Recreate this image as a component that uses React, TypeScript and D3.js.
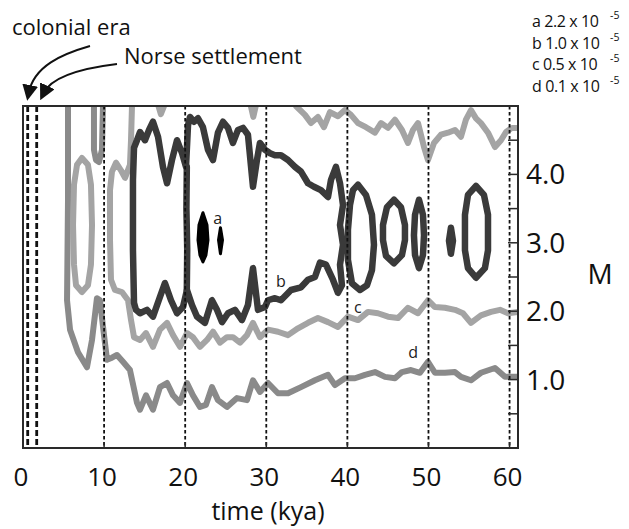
import React from 'react';
import * as d3 from 'd3';

type Pt = [number, number]; // [time kya, M]

const xTicks = [0, 10, 20, 30, 40, 50, 60];
const yLabels = [1, 2, 3, 4];
const yMinor = [0.5, 1, 1.5, 2, 2.5, 3, 3.5, 4, 4.5];
const eventTimes = [0.58, 1.69];
const eventNames = ['colonial era', 'Norse settlement'];
const levelNames = ['a', 'b', 'c', 'd'];
const levelValues = ['2.2', '1.0', '0.5', '0.1'];
const levelLabelAt: Pt[] = [[24.0, 3.36], [31.8, 2.44], [41.3, 2.05], [48.1, 1.4]];

// level d (0.1)
const dLower: Pt[] = [
  [5.55, 5.0], [5.55, 3.63], [5.43, 2.16], [5.8, 1.73], [6.78, 1.4], [7.89, 1.18], [8.51, 1.58],
  [9.12, 2.19], [9.49, 2.16], [9.99, 1.65], [10.36, 1.29], [10.97, 1.32], [11.59, 1.36], [12.33, 1.26],
  [13.19, 1.14], [14.06, 0.66], [14.43, 0.56], [15.17, 0.77], [16.03, 0.56], [16.89, 0.89], [17.76, 0.95],
  [18.5, 0.77], [19.36, 0.66], [20.22, 0.95], [20.96, 0.77], [21.82, 0.6], [22.56, 0.63], [23.3, 0.89],
  [24.04, 0.7], [25.15, 0.6], [26.39, 0.73], [27.62, 0.7], [28.36, 0.99], [29.22, 0.82], [30.21, 0.95],
  [31.44, 0.8], [32.68, 0.8], [34.28, 0.89], [36.0, 0.99], [37.61, 1.07], [38.47, 0.92], [39.7, 1.02],
  [40.94, 1.02], [42.17, 1.07], [43.4, 1.11], [44.64, 1.04], [45.87, 1.02], [46.73, 1.11], [47.84, 1.14],
  [48.95, 1.1], [49.94, 1.26], [50.8, 1.1], [52.03, 1.1], [53.27, 1.11], [54.01, 1.04], [55.24, 0.99],
  [56.47, 1.1], [58.2, 1.17], [59.43, 1.04], [61.04, 1.04],
];
const dTopU: Pt[] = [[8.75, 5.0], [8.75, 4.36], [9.0, 4.21], [9.37, 4.18], [9.74, 4.36], [9.86, 5.0]];

// level c (0.5)
const cOval: Pt[] = [
  [7.27, 4.24], [8.01, 4.14], [8.38, 3.85], [8.51, 3.26], [8.38, 2.68], [8.01, 2.38], [7.27, 2.28],
  [6.54, 2.38], [6.29, 2.68], [6.17, 3.26], [6.29, 3.85], [6.66, 4.14],
];
const cLower: Pt[] = [
  [13.44, 5.0], [13.32, 4.5], [13.19, 4.14], [12.58, 3.95], [12.08, 4.06], [11.47, 4.17], [10.97, 4.04],
  [10.73, 3.77], [10.73, 3.04], [10.85, 2.46], [11.34, 2.31], [12.2, 2.28], [12.95, 2.16], [13.32, 1.87],
  [13.69, 1.62], [14.43, 1.58], [15.17, 1.68], [16.03, 1.48], [16.89, 1.73], [17.76, 1.83], [18.5, 1.65],
  [19.36, 1.48], [20.22, 1.68], [20.96, 1.62], [21.82, 1.48], [22.69, 1.58], [23.43, 1.7], [24.29, 1.54],
  [25.15, 1.62], [25.89, 1.62], [26.76, 1.54], [27.62, 1.65], [28.36, 1.83], [29.22, 1.62], [30.21, 1.73],
  [31.44, 1.7], [32.68, 1.65], [33.91, 1.75], [35.14, 1.83], [36.37, 1.9], [37.61, 1.84], [38.84, 1.77],
  [40.07, 1.92], [41.31, 1.87], [42.54, 1.99], [43.77, 1.97], [45.01, 1.92], [46.24, 1.9], [47.47, 2.05],
  [48.71, 1.97], [49.94, 2.16], [50.8, 2.06], [52.03, 2.05], [53.27, 2.02], [54.25, 1.97], [55.24, 1.83],
  [56.47, 1.94], [57.71, 1.99], [58.82, 2.02], [59.8, 1.97], [61.04, 1.99],
];
const cUpper: Pt[] = [
  [33.66, 5.0], [34.77, 4.87], [35.51, 4.75], [36.37, 4.84], [37.11, 4.69], [37.85, 4.91], [38.84, 4.85],
  [39.7, 4.94], [40.44, 4.87], [41.31, 4.75], [42.29, 4.69], [43.4, 4.61], [44.14, 4.75], [45.01, 4.68],
  [45.87, 4.8], [46.73, 4.65], [47.47, 4.46], [48.09, 4.65], [48.71, 4.75], [49.45, 4.4], [49.94, 4.21],
  [50.68, 4.46], [51.54, 4.58], [52.4, 4.61], [53.27, 4.65], [54.01, 4.55], [54.62, 4.8], [55.24, 4.94],
  [55.86, 4.82], [56.47, 4.75], [57.34, 4.61], [58.2, 4.4], [58.94, 4.5], [59.56, 4.62], [60.3, 4.68],
  [61.04, 4.68],
];
const cTip1: Pt[] = [[16.7, 5.0], [17.0, 4.88], [17.4, 5.0]];
const cTip2: Pt[] = [[28.1, 5.0], [28.4, 4.84], [28.7, 5.0]];

// level b (1.0)
const bMain: Pt[] = [
  [13.69, 2.12], [13.56, 2.89], [13.56, 3.92], [13.69, 4.39], [14.06, 4.5], [14.43, 4.62], [15.04, 4.5],
  [15.54, 4.65], [16.03, 4.77], [16.65, 4.55], [17.26, 4.11], [17.76, 3.87], [18.37, 4.21], [18.99, 4.5],
  [19.61, 4.31], [20.1, 4.11], [20.35, 4.72], [20.59, 4.84], [21.08, 4.77], [21.58, 4.82], [22.19, 4.69],
  [22.81, 4.36], [23.43, 4.21], [24.04, 4.61], [24.66, 4.77], [25.28, 4.68], [25.89, 4.46], [26.51, 4.65],
  [27.13, 4.68], [27.74, 4.58], [28.36, 3.82], [28.85, 4.21], [29.22, 4.46], [29.84, 4.36], [30.46, 4.31],
  [31.07, 4.28], [31.81, 4.28], [32.68, 4.21], [33.54, 4.11], [34.28, 4.04], [35.14, 3.87], [35.88, 3.82],
  [36.74, 3.77], [37.61, 3.67], [37.98, 3.92], [38.59, 4.11], [39.09, 3.87], [39.46, 3.55], [39.09, 3.26],
  [39.46, 2.97], [39.09, 2.68], [39.33, 2.38], [38.84, 2.27], [38.22, 2.46], [37.36, 2.68], [36.62, 2.71],
  [36.0, 2.5], [35.14, 2.46], [34.28, 2.35], [33.05, 2.31], [31.81, 2.16], [31.07, 2.19], [30.21, 2.16],
  [29.84, 2.06], [28.98, 2.02], [28.36, 2.63], [27.74, 2.09], [27.0, 1.87], [26.14, 2.02], [25.28, 1.97],
  [24.54, 1.84], [23.92, 2.02], [23.3, 2.16], [22.44, 1.83], [21.46, 1.92], [20.84, 2.09], [20.22, 2.31],
  [19.73, 2.06], [18.99, 1.97], [18.25, 2.16], [17.5, 2.41], [16.89, 2.21], [16.03, 1.92], [15.29, 2.02],
  [14.43, 1.97], [13.93, 2.02],
];
const bDivider: Pt[] = [[20.2, 4.11], [20.15, 3.5], [20.25, 2.9], [20.2, 2.31]];
const bOval1: Pt[] = [
  [41.31, 3.85], [42.29, 3.7], [43.03, 3.41], [43.28, 2.97], [43.03, 2.6], [42.42, 2.38], [41.55, 2.31],
  [40.56, 2.41], [40.07, 2.75], [40.07, 3.19], [40.32, 3.55], [40.69, 3.77],
];
const bOval2: Pt[] = [
  [45.75, 3.63], [46.61, 3.52], [47.1, 3.26], [47.1, 3.04], [46.73, 2.82], [45.75, 2.7], [44.76, 2.81],
  [44.39, 3.04], [44.39, 3.26], [44.88, 3.52],
];
const bOval3: Pt[] = [
  [48.83, 3.63], [49.32, 3.41], [49.45, 3.11], [49.32, 2.82], [48.83, 2.63], [48.34, 2.82], [48.21, 3.11],
  [48.34, 3.41],
];
const bDot: Pt[] = [[52.77, 3.22], [53.02, 3.03], [52.77, 2.84], [52.53, 3.03]];
const bOval4: Pt[] = [
  [55.86, 3.83], [56.84, 3.7], [57.34, 3.41], [57.34, 2.89], [56.96, 2.63], [55.86, 2.49], [54.87, 2.63],
  [54.5, 2.89], [54.5, 3.41], [54.87, 3.7],
];

// level a (2.2)
const aBig: Pt[] = [
  [22.19, 3.44], [22.69, 3.26], [22.81, 3.04], [22.56, 2.82], [22.19, 2.72], [21.82, 2.82], [21.58, 3.04],
  [21.7, 3.26],
];
const aSmall: Pt[] = [[24.35, 3.22], [24.6, 3.04], [24.35, 2.84], [24.11, 3.04]];

const W = 629, H = 529;
const FONT = '"Open Sans", sans-serif';

export default function App() {
  const x = d3.scaleLinear().domain([0, 61.04]).range([23, 518]);
  const y = d3.scaleLinear().domain([0, 5]).range([448, 106]);
  const open = d3.line<Pt>().x(d => x(d[0])).y(d => y(d[1]));
  const closed = d3.line<Pt>().x(d => x(d[0])).y(d => y(d[1])).curve(d3.curveLinearClosed);
  const [x0, x1] = x.range();
  const [y0, y1] = y.range();

  const colD = '#8a8a8a', colC = '#a4a4a4', colB = '#3a3a3a';

  return (
    <div>
      <style>{'body{margin:0}'}</style>
      <svg width={W} height={H} style={{ display: 'block', background: '#fff' }} fontFamily={FONT}>
        <defs>
          <clipPath id="plot"><rect x={x0} y={y1} width={x1 - x0} height={y0 - y1} /></clipPath>
          <marker id="head" viewBox="0 0 10 10" refX="5" refY="5" markerWidth="8" markerHeight="8" orient="auto">
            <path d="M0,0 L10,5 L0,10 z" fill="#111" />
          </marker>
        </defs>

        <g clipPath="url(#plot)" fill="none" strokeLinejoin="round" strokeLinecap="round" strokeWidth={6}>
          <path d={open(dLower)!} stroke={colD} />
          <path d={open(dTopU)!} stroke={colD} />
          <path d={closed(cOval)!} stroke={colC} />
          <path d={open(cLower)!} stroke={colC} />
          <path d={open(cUpper)!} stroke={colC} />
          <path d={open(cTip1)!} stroke={colC} />
          <path d={open(cTip2)!} stroke={colC} />
          <g stroke={colB} strokeWidth={6.5}>
            <path d={closed(bMain)!} />
            <path d={open(bDivider)!} />
            <path d={closed(bOval1)!} />
            <path d={closed(bOval2)!} />
            <path d={closed(bOval3)!} />
            <path d={closed(bDot)!} fill={colB} />
            <path d={closed(bOval4)!} />
          </g>
          <path d={closed(aBig)!} stroke="#000" fill="#000" strokeWidth={3} />
          <path d={closed(aSmall)!} stroke="#000" fill="#000" strokeWidth={3} />
        </g>

        {/* dashed time markers */}
        {xTicks.slice(1).map(t => (
          <line key={t} x1={x(t)} x2={x(t)} y1={y1} y2={y0} stroke="#111" strokeWidth={1.8} strokeDasharray="3.5,2.5" />
        ))}
        {eventTimes.map(t => (
          <line key={t} x1={x(t)} x2={x(t)} y1={y1} y2={y0} stroke="#111" strokeWidth={2.8} strokeDasharray="6,3" />
        ))}

        {/* frame and ticks */}
        <rect x={x0} y={y1} width={x1 - x0} height={y0 - y1} fill="none" stroke="#2a2a2a" strokeWidth={2} />
        {yMinor.map(m => (
          <line key={m} x1={x1 - 10} x2={x1} y1={y(m)} y2={y(m)} stroke="#2a2a2a" strokeWidth={1.5} />
        ))}
        {xTicks.map(t => (
          <line key={t} x1={x(t)} x2={x(t)} y1={y0} y2={y0 - 6} stroke="#2a2a2a" strokeWidth={1.5} />
        ))}

        {/* tick labels */}
        {xTicks.map(t => (
          <text key={t} x={x(t) - 2} y={486} fontSize={26} textAnchor="middle" fill="#111">{t}</text>
        ))}
        {yLabels.map(m => (
          <text key={m} x={526} y={y(m)} dy="0.36em" fontSize={28} fill="#111">{m.toFixed(1)}</text>
        ))}
        <text x={268} y={520} fontSize={25} textAnchor="middle" fill="#111">time (kya)</text>
        <text x={600} y={y(2.55)} dy="0.36em" fontSize={28} textAnchor="middle" fill="#111">M</text>

        {/* contour letters */}
        {levelNames.map((n, i) => (
          <text key={n} x={x(levelLabelAt[i][0])} y={y(levelLabelAt[i][1])} dy="0.35em" fontSize={16}
            textAnchor="middle" fill="#222">{n}</text>
        ))}

        {/* legend */}
        {levelNames.map((n, i) => (
          <g key={n} transform={`translate(532, ${27 + i * 21.7})`}>
            <text fontSize={16} fill="#111" letterSpacing={-0.4}>{`${n} ${levelValues[i]} x 10`}</text>
            <text x={78} y={-8} fontSize={10.5} fill="#111">-5</text>
          </g>
        ))}

        {/* event annotations */}
        <text x={12} y={35} fontSize={22} fill="#111">{eventNames[0]}</text>
        <text x={124} y={64} fontSize={22} fill="#111">{eventNames[1]}</text>
        <path d={`M90,46 C62,54 34,66 ${x(eventTimes[0]) + 1},93`} fill="none" stroke="#111" strokeWidth={2} markerEnd="url(#head)" />
        <path d={`M117,64 C84,68 52,76 ${x(eventTimes[1]) + 7},93`} fill="none" stroke="#111" strokeWidth={2} markerEnd="url(#head)" />
      </svg>
    </div>
  );
}
